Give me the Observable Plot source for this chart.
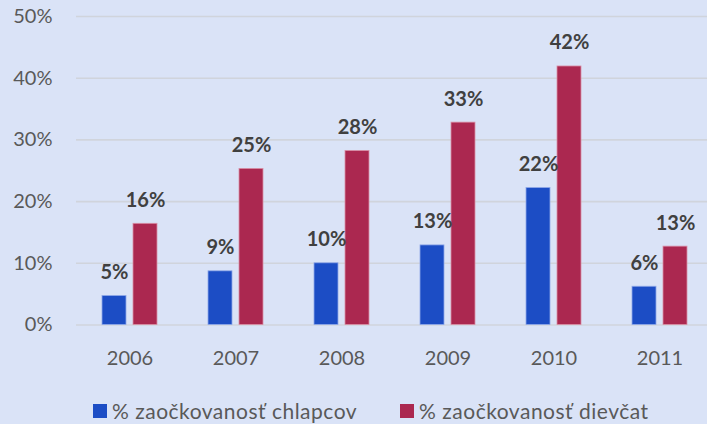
<!DOCTYPE html>
<html>
<head>
<meta charset="utf-8">
<script src="https://cdn.jsdelivr.net/npm/d3@7"></script>
<script src="https://cdn.jsdelivr.net/npm/@observablehq/plot@0.6"></script>
<style>
  html, body { margin: 0; padding: 0; background: #DAE3F7; overflow: hidden; }
  #wrap { position: relative; width: 707px; height: 424px; font-family: Lato, "Open Sans", sans-serif; }
  #legend { position: absolute; left: 93px; top: 398px; display: flex; align-items: center; font-size: 21px; letter-spacing: 0.5px; color: #595959; white-space: nowrap; }
  .item { display: flex; align-items: center; }
  .sw { width: 14px; height: 14px; margin-right: 5px; }
</style>
</head>
<body>
<div id="wrap">
  <div id="chart"></div>
  <div id="legend"></div>
</div>
<script>
const years = ["2006", "2007", "2008", "2009", "2010", "2011"];
const boys = [0.047, 0.087, 0.100, 0.129, 0.222, 0.062];
const girls = [0.164, 0.253, 0.282, 0.328, 0.419, 0.127];
const boysLabels = ["5%", "9%", "10%", "13%", "22%", "6%"];
const girlsLabels = ["16%", "25%", "28%", "33%", "42%", "13%"];
const seriesNames = ["% zaočkovanosť chlapcov", "% zaočkovanosť dievčat"];
const seriesColors = ["#1C4DC5", "#AB2850"];
const yTicks = [0, 0.1, 0.2, 0.3, 0.4, 0.5];

const boysData = years.map((y, i) => ({year: y, value: boys[i], label: boysLabels[i]}));
const girlsData = years.map((y, i) => ({year: y, value: girls[i], label: girlsLabels[i]}));

const chart = Plot.plot({
  width: 707,
  height: 385,
  marginLeft: 76,
  marginRight: 0,
  marginTop: 16,
  marginBottom: 60.5,
  style: {background: "transparent", fontFamily: "Lato, 'Open Sans', sans-serif", fontSize: "20px", color: "#595959", overflow: "hidden"},
  x: {domain: years, range: [75.4, 712.6], paddingInner: 0.482, paddingOuter: 0.241, tickSize: 0, tickPadding: 26, label: null},
  y: {domain: [0, 0.5], ticks: yTicks, tickFormat: d3.format(".0%"), tickSize: 0, tickPadding: 24, label: null},
  marks: [
    Plot.ruleY(yTicks, {stroke: "#D0D4DC", strokeWidth: 1.6}),
    Plot.barY(boysData, {x: "year", y: "value", fill: seriesColors[0], insetRight: 31, stroke: "#8FA8E8", strokeWidth: 0.8}),
    Plot.barY(girlsData, {x: "year", y: "value", fill: seriesColors[1], insetLeft: 31, stroke: "#D98FA6", strokeWidth: 0.8}),
    Plot.text(boysData, {x: "year", y: "value", text: "label", dx: -15.5, dy: -17, lineAnchor: "bottom", fill: "#404040", fontWeight: "bold", fontSize: 20}),
    Plot.text(girlsData, {x: "year", y: "value", text: "label", dx: 15.5, dy: -17, lineAnchor: "bottom", fill: "#404040", fontWeight: "bold", fontSize: 20})
  ]
});
document.getElementById("chart").appendChild(chart);

const legend = document.getElementById("legend");
seriesNames.forEach((name, i) => {
  const item = document.createElement("div");
  item.className = "item";
  if (i > 0) item.style.marginLeft = "43px";
  const sw = document.createElement("div");
  sw.className = "sw";
  sw.style.background = seriesColors[i];
  const t = document.createElement("span");
  t.textContent = name;
  item.appendChild(sw);
  item.appendChild(t);
  legend.appendChild(item);
});
</script>
</body>
</html>
